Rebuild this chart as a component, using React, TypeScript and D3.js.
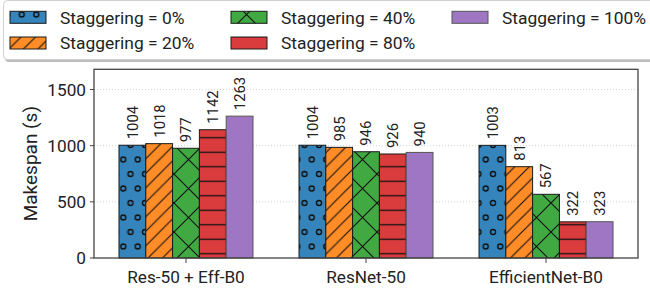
import * as d3 from "d3";

const categories = ["Res-50 + Eff-B0", "ResNet-50", "EfficientNet-B0"];
const seriesNames = [
  "Staggering = 0%",
  "Staggering = 20%",
  "Staggering = 40%",
  "Staggering = 80%",
  "Staggering = 100%",
];
const stagger0 = [1004, 1004, 1003];
const stagger20 = [1018, 985, 813];
const stagger40 = [977, 946, 567];
const stagger80 = [1142, 926, 322];
const stagger100 = [1263, 940, 323];
const yTicks = [0, 500, 1000, 1500];

const seriesValues = [stagger0, stagger20, stagger40, stagger80, stagger100];
const colors = ["#3584bb", "#ff8c26", "#41a941", "#da3c3d", "#9f76c4"];
const patternIds = ["hatch-o", "hatch-diag", "hatch-x", "hatch-h", ""];
const edges = ["#1a1a1a", "#1a1a1a", "#1a1a1a", "#1a1a1a", "#555"];

const W = 650;
const H = 291;
const plot = { left: 94, right: 638, top: 69.3, bottom: 258 };
const font = "Roboto, 'DejaVu Sans', sans-serif";

function Patterns() {
  const c = 14.5;
  const x = 29;
  return (
    <defs>
      <pattern id="hatch-o" patternUnits="userSpaceOnUse" width={c} height={c * 2}>
        {[
          [0, 0], [c, 0], [c / 2, c], [0, c * 2], [c, c * 2],
        ].map(([cx, cy], i) => (
          <circle key={i} cx={cx} cy={cy} r={2.5} fill="none" stroke="#111" strokeWidth={1.4} />
        ))}
      </pattern>
      <pattern id="hatch-diag" patternUnits="userSpaceOnUse" width={c} height={c}>
        <path d={`M${-c},${c * 2} L${c * 2},${-c} M${-c},${c} L${c},${-c} M0,${c * 2} L${c * 2},0`} stroke="#111" strokeWidth={1.1} />
      </pattern>
      <pattern id="hatch-x" patternUnits="userSpaceOnUse" width={x} height={x}>
        <path d={`M0,0 L${x},${x} M0,${x} L${x},0 M${-x / 2},${x / 2} L${x / 2},${-x / 2} M${x / 2},${x * 1.5} L${x * 1.5},${x / 2} M${-x / 2},${x / 2} L${x / 2},${x * 1.5} M${x / 2},${-x / 2} L${x * 1.5},${x / 2}`} stroke="#111" strokeWidth={1.1} />
      </pattern>
      <pattern id="hatch-h" patternUnits="userSpaceOnUse" width={c} height={c}>
        <path d={`M0,${c / 2} L${c},${c / 2}`} stroke="#111" strokeWidth={1.3} />
      </pattern>
    </defs>
  );
}

export default function App() {
  const y = d3.scaleLinear().domain([0, 1680]).range([plot.bottom, plot.top]);
  const x = d3.scalePoint<string>().domain(categories).range([plot.left, plot.right]).padding(0.511);
  const sub = d3.scaleBand<string>().domain(seriesNames).range([-67, 67]).padding(0);
  const bw = sub.bandwidth();

  const legendCols = [10, 231, 452];
  const legendRows = [17.3, 43];

  return (
    <svg width={W} height={H} style={{ position: "absolute", left: 0, top: 0 }} fontFamily={font}>
      <Patterns />
      <rect width={W} height={H} fill="#fff" />

      {/* legend */}
      <rect x={5} y={3} width={670} height={59} rx={4} fill="#bdbdbd" />
      <rect x={3.5} y={0.5} width={670} height={59} rx={4} fill="#fff" stroke="#d0d0d0" />
      {seriesNames.map((name, i) => {
        const col = Math.floor(i / 2);
        const row = i % 2;
        const px = legendCols[col];
        const cy = legendRows[row];
        return (
          <g key={name}>
            <rect x={px} y={cy - 6} width={36} height={12} fill={colors[i]} />
            {patternIds[i] && <rect x={px} y={cy - 6} width={36} height={12} fill={`url(#${patternIds[i]})`} />}
            <rect x={px} y={cy - 6} width={36} height={12} fill="none" stroke={edges[i]} strokeWidth={1} />
            <text x={px + 50} y={cy} dy="0.36em" fontSize={17.4} fill="#222">{name}</text>
          </g>
        );
      })}

      {/* grid */}
      {yTicks.filter((t) => t > 0).map((t) => (
        <line key={t} x1={plot.left} x2={plot.right} y1={y(t)} y2={y(t)} stroke="#c8c8c8" strokeWidth={0.8} strokeDasharray="1,2" />
      ))}

      {/* bars */}
      {categories.map((cat, ci) => (
        <g key={cat}>
          {seriesNames.map((s, si) => {
            const v = seriesValues[si][ci];
            const bx = (x(cat) as number) + (sub(s) as number);
            const by = y(v);
            const bh = y(0) - by;
            return (
              <g key={s}>
                <rect x={bx} y={by} width={bw} height={bh} fill={colors[si]} />
                {patternIds[si] && <rect x={bx} y={by} width={bw} height={bh} fill={`url(#${patternIds[si]})`} />}
                <rect x={bx} y={by} width={bw} height={bh} fill="none" stroke={edges[si]} strokeWidth={1} />
                <text
                  transform={`translate(${bx + bw / 2},${by - 6}) rotate(-90)`}
                  dy="0.36em"
                  fontSize={14.8}
                  fill="#222"
                >
                  {v}
                </text>
              </g>
            );
          })}
        </g>
      ))}

      {/* axes frame */}
      <rect x={plot.left} y={plot.top} width={plot.right - plot.left} height={plot.bottom - plot.top} fill="none" stroke="#444" strokeWidth={1.3} />

      {yTicks.map((t) => (
        <g key={t}>
          <line x1={plot.left - 4} x2={plot.left} y1={y(t)} y2={y(t)} stroke="#444" strokeWidth={1} />
          <text x={plot.left - 8} y={y(t)} dy="0.36em" textAnchor="end" fontSize={17.2} fill="#222">{t}</text>
        </g>
      ))}

      {categories.map((cat) => (
        <g key={cat}>
          <line x1={x(cat)} x2={x(cat)} y1={plot.bottom} y2={plot.bottom + 5} stroke="#444" strokeWidth={1} />
          <text x={x(cat)} y={277} dy="0.36em" textAnchor="middle" fontSize={17.2} fill="#222">{cat}</text>
        </g>
      ))}

      <text
        transform={`translate(30,${(plot.top + plot.bottom) / 2}) rotate(-90)`}
        dy="0.36em"
        textAnchor="middle"
        fontSize={19}
        fill="#222"
      >
        Makespan (s)
      </text>
    </svg>
  );
}
